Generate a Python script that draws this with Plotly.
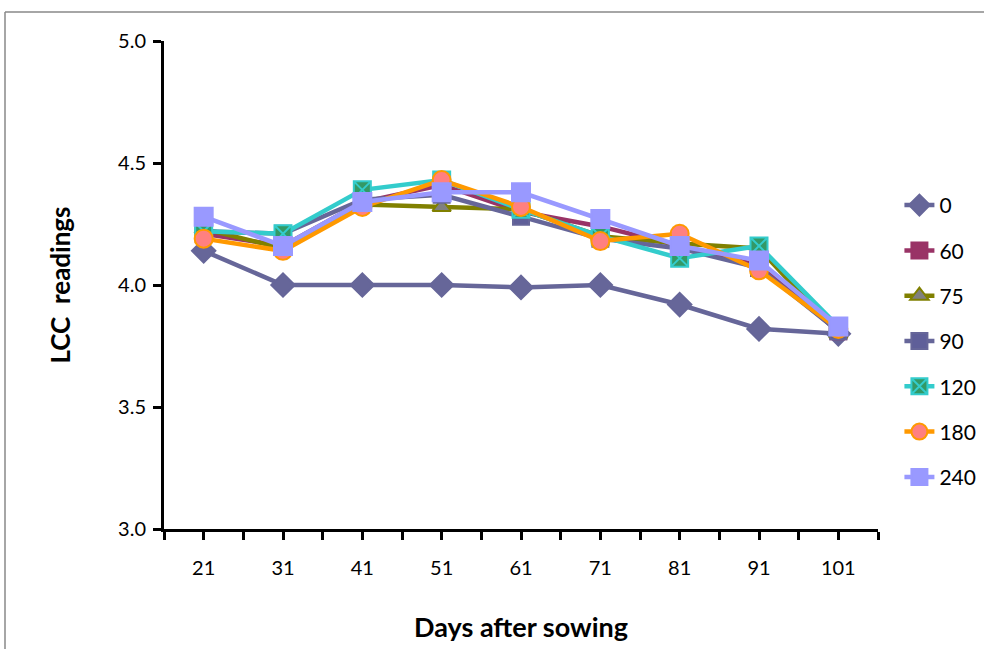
import plotly.graph_objects as go

days = [21, 31, 41, 51, 61, 71, 81, 91, 101]
series_names = ["0", "60", "75", "90", "120", "180", "240"]
v0 = [4.14, 4.00, 4.00, 4.00, 3.99, 4.00, 3.92, 3.82, 3.80]
v60 = [4.21, 4.16, 4.34, 4.41, 4.30, 4.24, 4.16, 4.08, 3.81]
v75 = [4.23, 4.15, 4.33, 4.32, 4.31, 4.20, 4.17, 4.15, 3.80]
v90 = [4.22, 4.21, 4.35, 4.37, 4.28, 4.19, 4.15, 4.07, 3.81]
v120 = [4.22, 4.21, 4.39, 4.43, 4.31, 4.20, 4.11, 4.16, 3.83]
v180 = [4.19, 4.14, 4.32, 4.43, 4.32, 4.18, 4.21, 4.06, 3.82]
v240 = [4.28, 4.16, 4.34, 4.38, 4.38, 4.27, 4.16, 4.10, 3.83]
values = [v0, v60, v75, v90, v120, v180, v240]

styles = [
    dict(line="#666699", symbol="diamond", fill="#666699", edge="#666699", size=18),
    dict(line="#993366", symbol="square", fill="#993366", edge="#993366", size=16),
    dict(line="#808000", symbol="triangle-up", fill="#808080", edge="#808000", size=16),
    dict(line="#666699", symbol="square", fill="#5f5f99", edge="#666699", size=16),
    dict(line="#33CCCC", symbol="square-x", fill="#339966", edge="#33CCCC", size=17),
    dict(line="#FF9900", symbol="circle", fill="#FF8080", edge="#FF9900", size=18),
    dict(line="#9999FF", symbol="square", fill="#9999FF", edge="#9999FF", size=18),
]

fig = go.Figure()
for name, vals, st in zip(series_names, values, styles):
    fig.add_trace(go.Scatter(
        x=days, y=vals, name=name, mode="lines+markers",
        legendgroup=name,
        line=dict(color=st["line"], width=4.5),
        marker=dict(symbol=st["symbol"], size=st["size"], color=st["fill"],
                    line=dict(color=st["edge"], width=2)),
    ))

tickvals = list(range(16, 107, 5))
ticktext = [str(t) if t in days else "" for t in tickvals]

font_family = "Lato, 'Open Sans', Arial, sans-serif"

# plot area target in screen px: x 164..878, y 41..529
L, R, T, B = 164, 984 - 878, 41, 649 - 529

fig.update_layout(
    width=984, height=649,
    margin=dict(l=L, r=R, t=T, b=B, autoexpand=False),
    paper_bgcolor="white", plot_bgcolor="white",
    font=dict(family=font_family, color="black", size=19),
    showlegend=True,
    legend=dict(x=1.03, y=0.705, xanchor="left", yanchor="top",
                font=dict(size=21), tracegroupgap=15, bgcolor="rgba(0,0,0,0)"),
    xaxis=dict(range=[16, 106], tickmode="array", tickvals=tickvals, ticktext=ticktext,
               showline=True, linecolor="black", linewidth=3, showgrid=False, zeroline=False,
               ticks="outside", ticklen=8, tickwidth=3, tickcolor="black",
               tickfont=dict(size=20), ticklabelstandoff=11,
               title=dict(text="<b>Days after sowing</b>", font=dict(size=27), standoff=41)),
    yaxis=dict(range=[3, 5], dtick=0.5, tickformat=".1f",
               showline=True, linecolor="black", linewidth=3, showgrid=False, zeroline=False,
               ticks="outside", ticklen=8, tickwidth=3, tickcolor="black",
               tickfont=dict(size=20), ticklabelstandoff=3,
               title=dict(text="<b>LCC\u00a0 readings</b>", font=dict(size=26), standoff=40)),
)

# outer chart border (top and left visible); screen px (5, 12)
pw, ph = 984 - L - R, 649 - T - B
bx = (5 - L) / pw
by = (649 - B - 12) / ph
fig.add_shape(type="line", xref="paper", yref="paper", x0=bx, x1=1.3, y0=by, y1=by,
              line=dict(color="#888888", width=1.5))
fig.add_shape(type="line", xref="paper", yref="paper", x0=bx, x1=bx, y0=by, y1=-0.4,
              line=dict(color="#888888", width=1.5))

fig.write_html("out.html", config={"displayModeBar": False},
               post_script="document.body.style.margin='0';")
